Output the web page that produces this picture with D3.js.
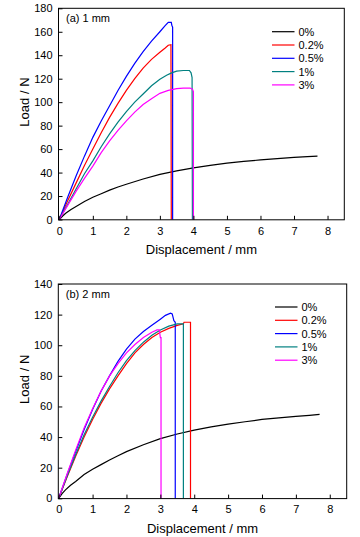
<!DOCTYPE html>
<html><head><meta charset="utf-8">
<script src="https://cdn.jsdelivr.net/npm/d3@7"></script>
<style>html,body{margin:0;padding:0;background:#fff}svg{display:block}text{font-family:Arial,"Liberation Sans",sans-serif;fill:#000}</style>
</head><body>
<script>
// ---- data ----
const seriesNames = ["0%", "0.2%", "0.5%", "1%", "3%"];
const seriesColors = ["#000000", "#ff0000", "#0000ff", "#008080", "#ff00ff"];
const xTicks = [0,1,2,3,4,5,6,7,8];
const yTicksA = [0,20,40,60,80,100,120,140,160,180];
const yTicksB = [0,20,40,60,80,100,120,140];

const a_0 = [[0,0],[0.1,3],[0.2,5.5],[0.35,8.5],[0.5,11],[0.75,15.3],[1,19],[1.25,22],[1.5,25],[1.75,27.7],[2,30],[2.5,34.5],[3,38.5],[3.5,41.5],[4,44],[4.5,46.2],[5,48],[5.5,49.5],[6,50.8],[6.5,51.9],[7,53],[7.4,53.6],[7.7,54]];
const a_02 = [[0,0],[0.25,16],[0.5,31],[0.75,46],[1,60],[1.25,74],[1.5,87],[1.75,99],[2,110],[2.25,120],[2.5,129],[2.75,136.5],[3,142.5],[3.15,146],[3.25,148.5],[3.33,149],[3.34,0]];
const a_05 = [[0,0],[0.25,19],[0.5,37],[0.75,54],[1,70],[1.25,84],[1.5,97],[1.75,110],[2,122],[2.25,133],[2.5,143],[2.75,152],[3,160],[3.15,165],[3.25,168],[3.34,168],[3.36,165],[3.38,164],[3.38,0]];
const a_1 = [[0,0],[0.25,13],[0.5,26],[0.75,39],[1,50],[1.25,62],[1.5,73],[1.75,83],[2,92],[2.25,100],[2.5,107],[2.75,114],[3,119.5],[3.2,123],[3.35,125],[3.5,126.5],[3.7,127],[3.88,127],[3.93,125],[3.96,121],[3.97,0]];
const a_3 = [[0,0],[0.25,12],[0.5,24],[0.75,35],[1,45.5],[1.25,57],[1.5,67],[1.75,76],[2,84],[2.25,91.5],[2.5,98],[2.75,103],[3,107.5],[3.25,110],[3.5,111.5],[3.7,112],[3.9,112],[3.97,111],[4.0,109],[4.0,0]];

const b_0 = [[0,0],[0.1,3],[0.2,5.5],[0.35,8.5],[0.5,11],[0.75,15.5],[1,19],[1.25,22],[1.5,25],[1.75,27.8],[2,30.5],[2.5,35],[3,39],[3.5,42],[4,44.5],[4.5,46.7],[5,48.5],[5.5,50],[6,51.5],[6.5,52.6],[7,53.5],[7.4,54.2],[7.7,54.8]];
const b_02 = [[0,0],[0.25,14],[0.5,27.5],[0.75,40],[1,51.5],[1.25,62],[1.5,71.5],[1.75,80],[2,88],[2.25,95],[2.5,100.5],[2.75,105],[3,108.5],[3.25,111],[3.5,113],[3.68,114],[3.7,115],[3.89,115],[3.89,0]];
const b_05 = [[0,0],[0.25,15.5],[0.5,30.5],[0.75,45],[1,58],[1.25,70],[1.5,80],[1.75,89.5],[2,97.5],[2.25,104],[2.5,109],[2.75,113],[3,117],[3.15,119.5],[3.3,121],[3.35,120.5],[3.4,116],[3.44,115],[3.44,0]];
const b_1 = [[0,0],[0.25,14.5],[0.5,28.5],[0.75,41.5],[1,53],[1.25,63.5],[1.5,73],[1.75,82],[2,90],[2.25,96.5],[2.5,102],[2.75,106.5],[3,110],[3.25,112.5],[3.5,114],[3.68,114],[3.68,0]];
const b_3 = [[0,0],[0.25,16],[0.5,31.5],[0.75,46],[1,58.5],[1.25,70],[1.5,80],[1.75,88],[2,95],[2.25,100.5],[2.5,105],[2.75,108.5],[2.9,110],[2.97,110],[3.0,105],[3.02,105],[3.02,0]];

const panels = [
  {label:"(a) 1 mm", series:[a_0,a_02,a_05,a_1,a_3], yMax:180, yTicks:yTicksA,
   box:{l:58.5,r:344.3,t:8.3,b:219.8}, x0:59.3, legend:{x:272,y:31.7}},
  {label:"(b) 2 mm", series:[b_0,b_02,b_05,b_1,b_3], yMax:140, yTicks:yTicksB,
   box:{l:58.3,r:346.7,t:284,b:498.6}, x0:58.7, legend:{x:275,y:307}}
];

const svg = d3.select("body").append("svg").attr("width",360).attr("height",537);

panels.forEach(p => {
  const B = p.box;
  const x = d3.scaleLinear().domain([0,8.5]).range([p.x0, B.r]);
  const y = d3.scaleLinear().domain([0,p.yMax]).range([B.b - 0.3, B.t]);
  const g = svg.append("g");

  // curves
  const line = d3.line().x(d=>x(d[0])).y(d=>y(d[1]));
  p.series.forEach((s,i) => {
    g.append("path").attr("d", line(s)).attr("fill","none")
      .attr("stroke", seriesColors[i]).attr("stroke-width",1.2).attr("stroke-linejoin","miter");
  });

  // axes with inward ticks
  const xAxis = d3.axisBottom(x).tickValues(xTicks).tickSize(-4).tickPadding(7).tickFormat(d3.format("d"));
  const gx = g.append("g").attr("transform",`translate(0,${B.b})`).call(xAxis);
  const yAxis = d3.axisLeft(y).tickValues(p.yTicks).tickSize(-4).tickPadding(6).tickFormat(d3.format("d"));
  const gy = g.append("g").attr("transform",`translate(${B.l},0)`).call(yAxis);
  [gx,gy].forEach(a => {
    a.select(".domain").remove();
    a.selectAll("text").attr("font-size",11).attr("font-family","Arial, 'Liberation Sans', sans-serif");
    a.selectAll("line").attr("stroke","#000");
  });

  // frame
  g.append("rect").attr("x",B.l).attr("y",B.t).attr("width",B.r-B.l).attr("height",B.b-B.t)
    .attr("fill","none").attr("stroke","#000").attr("stroke-width",1);

  // panel label
  g.append("text").attr("x",B.l+7.5).attr("y",B.t+14).attr("font-size",11).text(p.label);

  // axis titles
  g.append("text").attr("x",(B.l+B.r)/2 - 0).attr("y",B.b+34).attr("text-anchor","middle")
    .attr("font-size",13).text("Displacement / mm");
  g.append("text").attr("transform",`translate(28.5,${(B.t+B.b)/2 - 12}) rotate(-90)`)
    .attr("text-anchor","middle").attr("font-size",13).text("Load / N");

  // legend
  seriesNames.forEach((n,i) => {
    const ly = p.legend.y + i*13.3;
    g.append("line").attr("x1",p.legend.x).attr("x2",p.legend.x+22.5).attr("y1",ly).attr("y2",ly)
      .attr("stroke",seriesColors[i]).attr("stroke-width",1.2);
    g.append("text").attr("x",p.legend.x+26.5).attr("y",ly+4).attr("font-size",11).text(n);
  });
});
</script>
</body></html>
